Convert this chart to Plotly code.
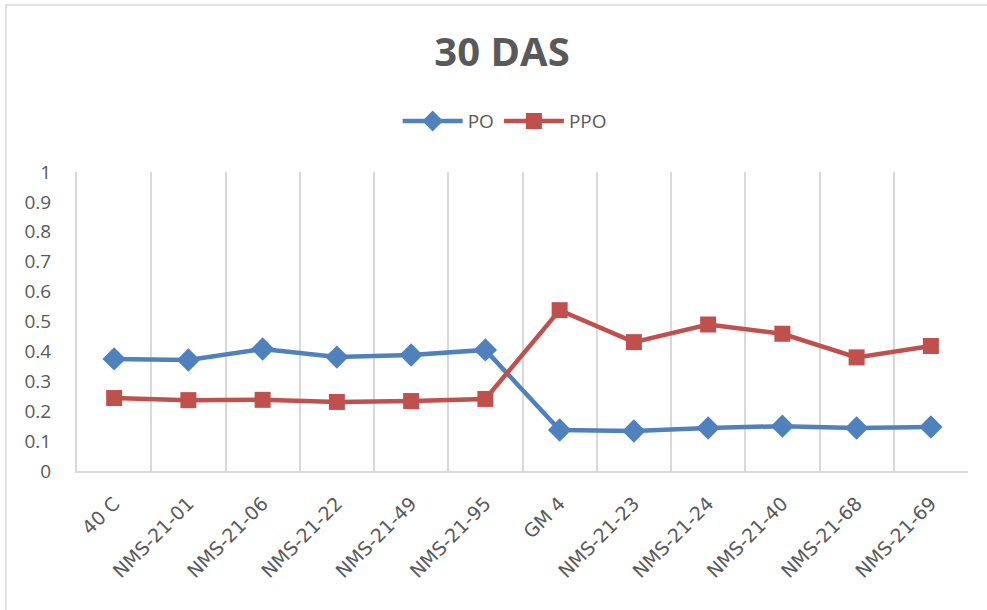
import plotly.graph_objects as go

categories = ["40 C", "NMS-21-01", "NMS-21-06", "NMS-21-22", "NMS-21-49", "NMS-21-95",
              "GM 4", "NMS-21-23", "NMS-21-24", "NMS-21-40", "NMS-21-68", "NMS-21-69"]
po = [0.375, 0.371, 0.408, 0.381, 0.388, 0.405, 0.137, 0.134, 0.144, 0.150, 0.144, 0.147]
ppo = [0.244, 0.237, 0.238, 0.231, 0.234, 0.241, 0.538, 0.431, 0.490, 0.459, 0.380, 0.418]
y_ticks = [0, 0.1, 0.2, 0.3, 0.4, 0.5, 0.6, 0.7, 0.8, 0.9, 1]
y_ticklabels = ["0", "0.1", "0.2", "0.3", "0.4", "0.5", "0.6", "0.7", "0.8", "0.9", "1"]

fig = go.Figure()
fig.add_trace(go.Scatter(x=categories, y=po, name="PO", mode="lines+markers",
                         line=dict(color="#4F81BD", width=4.5),
                         marker=dict(symbol="diamond", size=18, color="#4F81BD")))
fig.add_trace(go.Scatter(x=categories, y=ppo, name="PPO", mode="lines+markers",
                         line=dict(color="#C0504D", width=4.5),
                         marker=dict(symbol="square", size=16, color="#C0504D")))

fig.update_layout(
    width=987, height=610,
    paper_bgcolor="white", plot_bgcolor="white",
    margin=dict(l=77, r=19, t=172, b=139, autoexpand=False),
    title=dict(text="<b>30 DAS</b>", x=502 / 987, xanchor="center", xref="container",
               y=1 - 52 / 610, yanchor="middle",
               font=dict(family="Open Sans", size=40, color="#595959")),
    legend=dict(orientation="h", x=0.48, xanchor="center", y=1.17, yanchor="middle",
                font=dict(family="Open Sans", size=19, color="#595959"),
                itemwidth=60, bgcolor="rgba(0,0,0,0)"),
    font=dict(family="Open Sans", color="#595959"),
    shapes=[dict(type="rect", xref="paper", yref="paper", x0=-0.0797, x1=1.03, y0=-0.5, y1=1.5585,
                 line=dict(color="#D9D9D9", width=1.5))],
)
fig.update_xaxes(type="category", tickson="boundaries", showgrid=True, gridcolor="#D9D9D9",
                 gridwidth=2, showline=True, linecolor="#D9D9D9", linewidth=2,
                 tickangle=-45, ticks="", automargin=False,
                 tickfont=dict(family="DejaVu Sans", size=19, color="#595959"),
                 ticklabelstandoff=12, range=[-0.5, 11.5])
fig.update_yaxes(range=[0, 1], tickvals=y_ticks, ticktext=y_ticklabels, showgrid=False,
                 showline=True, linecolor="#D9D9D9", linewidth=2, zeroline=False, automargin=False,
                 tickfont=dict(family="Open Sans", size=19, color="#595959"), ticks="",
                 ticklabelstandoff=20)

fig.write_html("out.html", config={"displayModeBar": False},
               post_script="document.body.style.margin='0';")
